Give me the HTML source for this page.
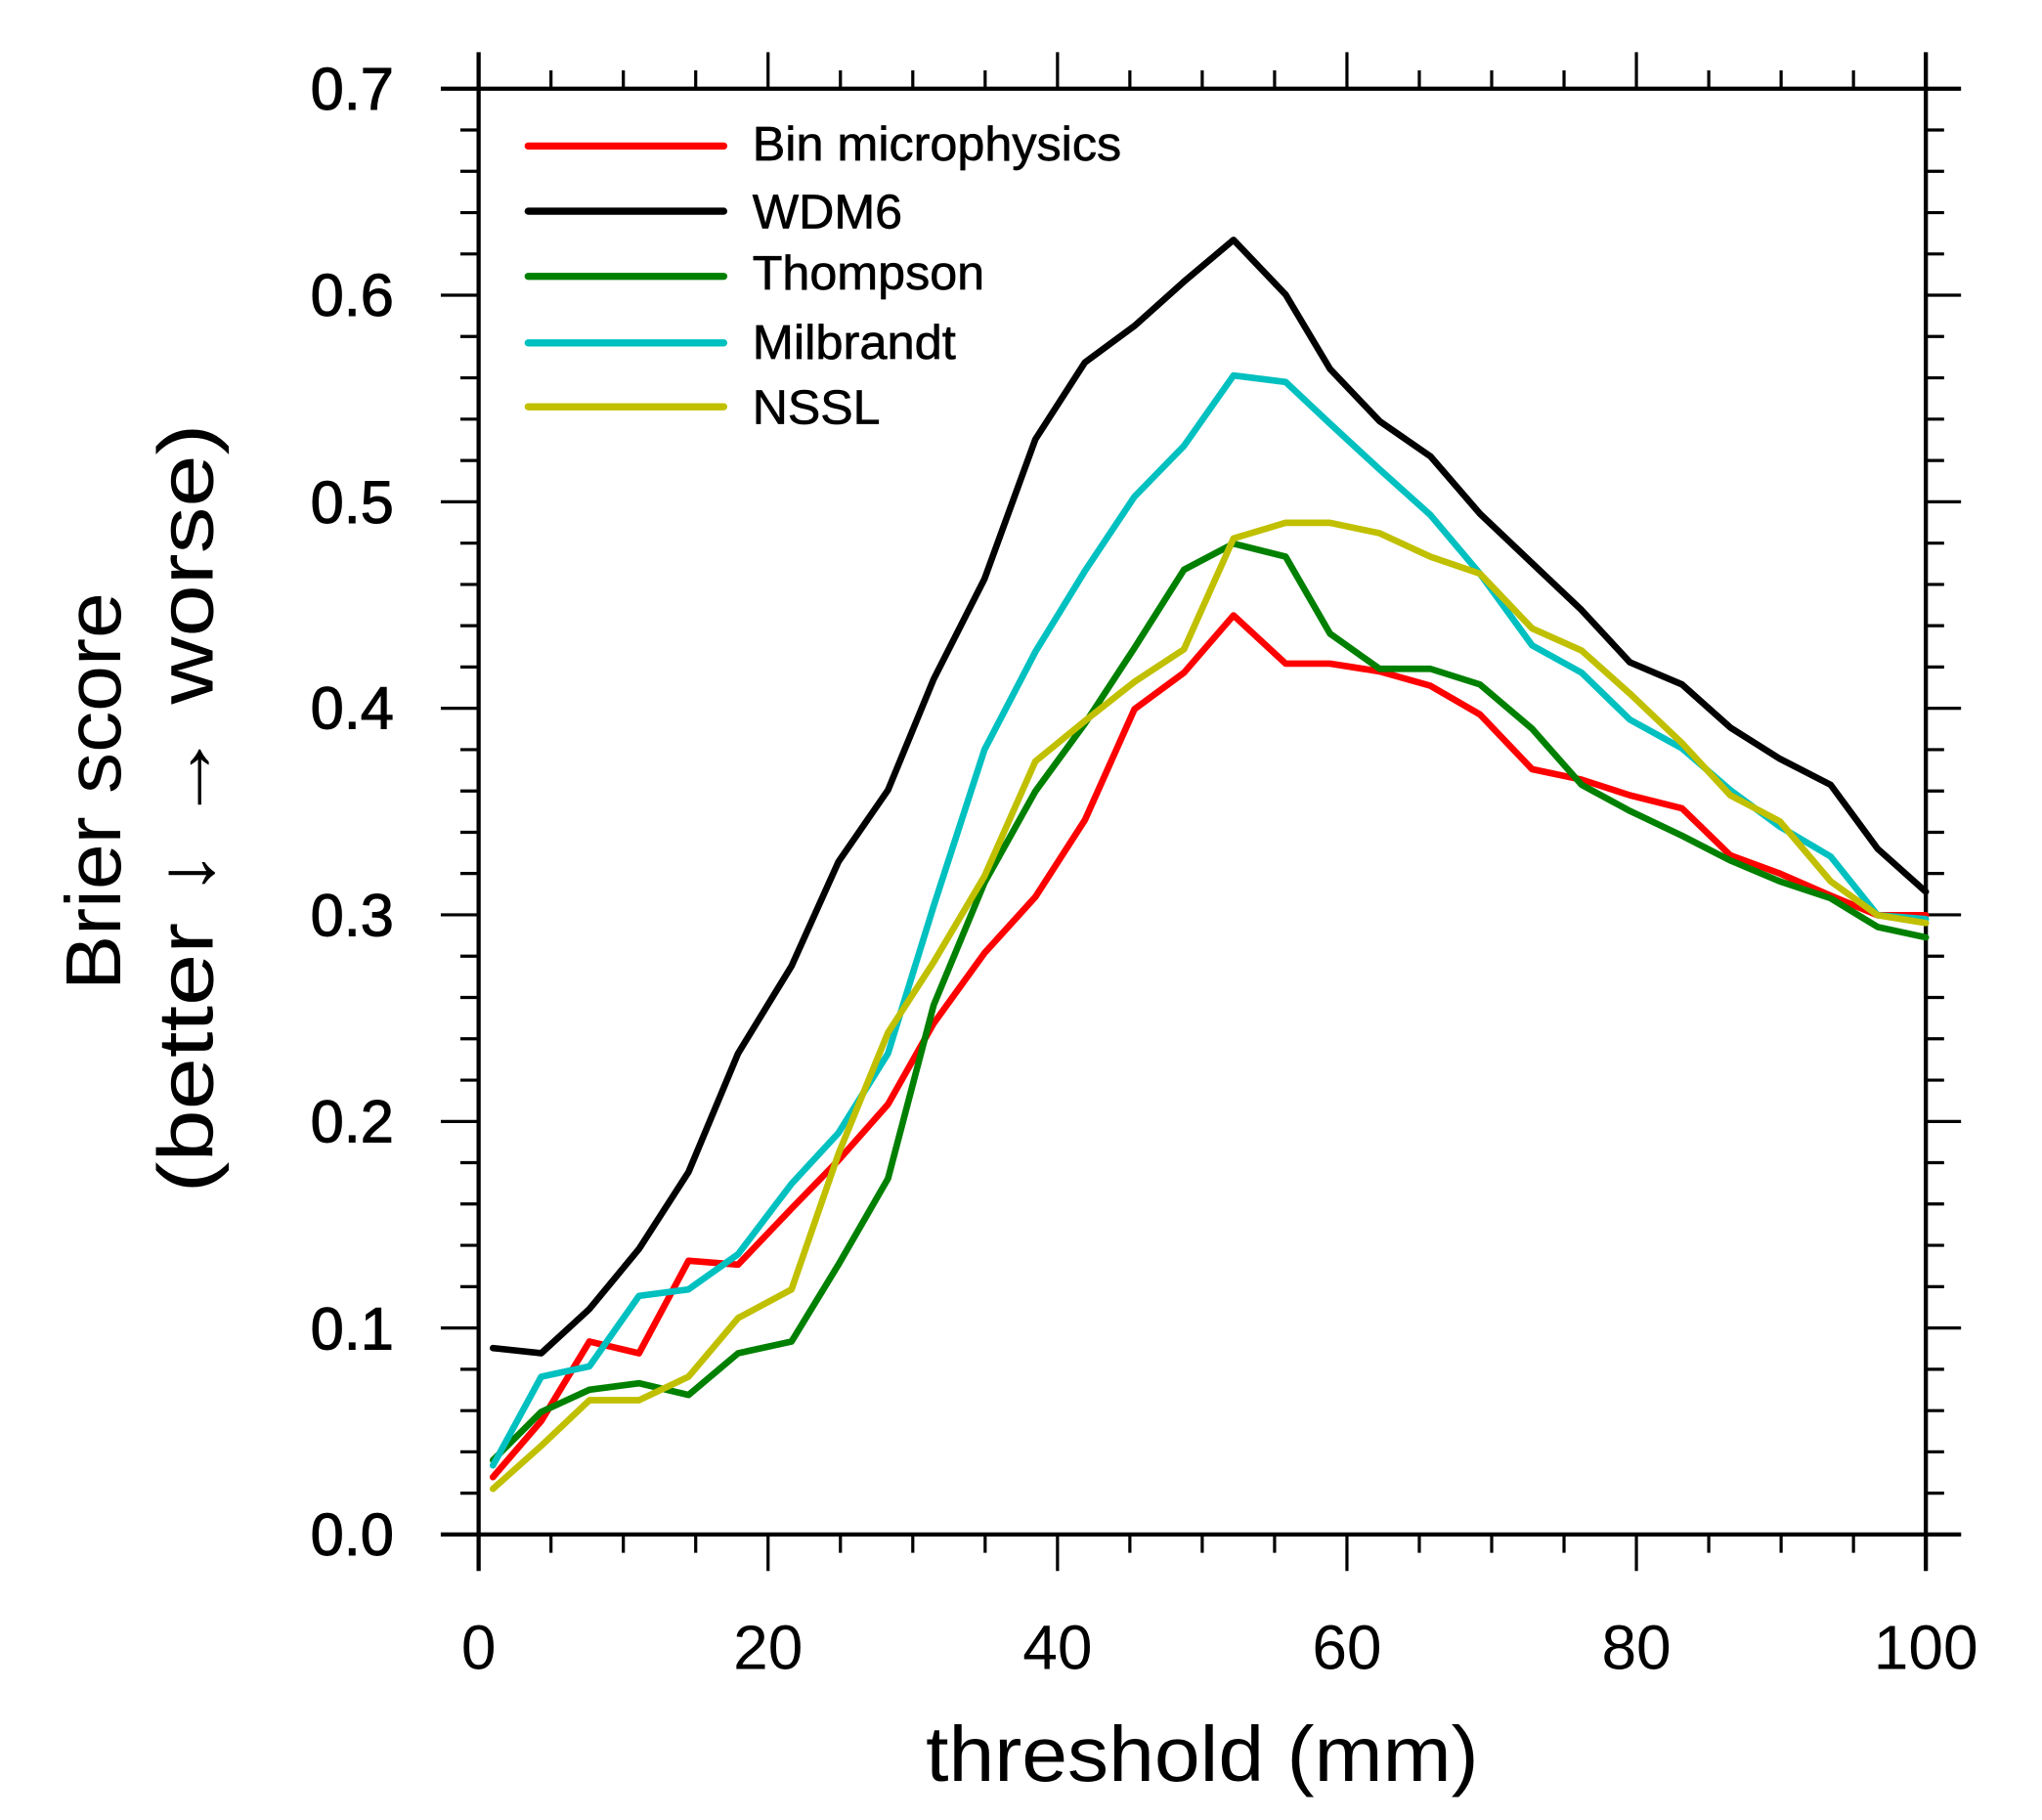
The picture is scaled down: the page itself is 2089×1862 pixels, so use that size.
<!DOCTYPE html>
<html><head><meta charset="utf-8"><style>html,body{margin:0;padding:0;background:#fff}svg{display:block}</style></head>
<body>
<svg xmlns="http://www.w3.org/2000/svg" width="2089" height="1862" viewBox="0 0 1566 1396" font-family="'Liberation Sans', Arial, sans-serif">
<rect width="1566" height="1396" fill="#fff"/>
<g stroke="#000" stroke-width="2.4" fill="none">
<path d="M338 68H1504M338 1177H1504M367 40V1205M1477 40V1205" stroke-width="3.2"/>
<path d="
M338 1177H367M338 1018.6H367M338 860.2H367M338 701.7H367M338 543.3H367M338 384.9H367M338 226.4H367
M1477 1177H1504M1477 1018.6H1504M1477 860.2H1504M1477 701.7H1504M1477 543.3H1504M1477 384.9H1504M1477 226.4H1504
M353 1145.3H367M353 1113.6H367M353 1082H367M353 1050.3H367M353 986.9H367M353 955.2H367M353 923.5H367M353 891.8H367M353 828.5H367M353 796.8H367M353 765.1H367M353 733.4H367M353 670H367M353 638.4H367M353 606.7H367M353 575H367M353 511.6H367M353 479.9H367M353 448.3H367M353 416.6H367M353 353.2H367M353 321.5H367M353 289.8H367M353 258.1H367M353 194.8H367M353 163.1H367M353 131.4H367M353 99.7H367
M1477 1145.3H1491M1477 1113.6H1491M1477 1082H1491M1477 1050.3H1491M1477 986.9H1491M1477 955.2H1491M1477 923.5H1491M1477 891.8H1491M1477 828.5H1491M1477 796.8H1491M1477 765.1H1491M1477 733.4H1491M1477 670H1491M1477 638.4H1491M1477 606.7H1491M1477 575H1491M1477 511.6H1491M1477 479.9H1491M1477 448.3H1491M1477 416.6H1491M1477 353.2H1491M1477 321.5H1491M1477 289.8H1491M1477 258.1H1491M1477 194.8H1491M1477 163.1H1491M1477 131.4H1491M1477 99.7H1491
M589 40V68M811 40V68M1033 40V68M1255 40V68
M589 1177V1205M811 1177V1205M1033 1177V1205M1255 1177V1205
M422.5 54V68M478 54V68M533.5 54V68M644.5 54V68M700 54V68M755.5 54V68M866.5 54V68M922 54V68M977.5 54V68M1088.5 54V68M1144 54V68M1199.5 54V68M1310.5 54V68M1366 54V68M1421.5 54V68
M422.5 1177V1191M478 1177V1191M533.5 1177V1191M644.5 1177V1191M700 1177V1191M755.5 1177V1191M866.5 1177V1191M922 1177V1191M977.5 1177V1191M1088.5 1177V1191M1144 1177V1191M1199.5 1177V1191M1310.5 1177V1191M1366 1177V1191M1421.5 1177V1191"/>
</g>
<g font-size="46" text-anchor="end" fill="#000" stroke="#000" stroke-width="0.8">
<text x="302" y="1193">0.0</text><text x="302" y="1035">0.1</text><text x="302" y="876">0.2</text><text x="302" y="718">0.3</text><text x="302" y="559">0.4</text><text x="302" y="401">0.5</text><text x="302" y="242">0.6</text><text x="302" y="84">0.7</text>
</g>
<g font-size="48" text-anchor="middle" fill="#000">
<text x="367" y="1280">0</text><text x="589" y="1280">20</text><text x="811" y="1280">40</text><text x="1033" y="1280">60</text><text x="1255" y="1280">80</text><text x="1477" y="1280">100</text>
</g>
<text x="922" y="1366" font-size="60" text-anchor="middle" textLength="424" lengthAdjust="spacingAndGlyphs">threshold (mm)</text>
<text transform="translate(92,607) rotate(-90)" font-size="60" text-anchor="middle" textLength="305" lengthAdjust="spacingAndGlyphs">Brier score</text>
<text transform="translate(163,620) rotate(-90)" font-size="60" text-anchor="middle" textLength="590" lengthAdjust="spacingAndGlyphs">(better ↓    → worse)</text>
<g fill="none" stroke-width="5" stroke-linejoin="round" stroke-linecap="round">
<polyline stroke="#ff0000" points="378,1133 415,1090 452,1029 490,1038 528,967 566,970 607,927 643,890 681,847 716,785 755,731 794,688 832,629 870,544 908,516 946,472 986,509 1020,509 1058,515 1097,526 1135,548 1175,590 1213,598 1250,610 1290,620 1327,656 1365,670 1404,687 1440,702 1477,702"/>
<polyline stroke="#000000" points="378,1034 415,1038 452,1004 490,958 528,899 566,808 607,741 643,661 681,606 716,521 755,444 794,337 832,278 870,250 908,216 946,184 986,226 1020,283 1058,323 1097,350 1135,394 1175,432 1213,468 1250,508 1290,525 1327,558 1365,582 1404,602 1440,651 1477,684"/>
<polyline stroke="#008000" points="378,1120 415,1083 452,1066 490,1061 528,1070 566,1038 607,1029 643,970 681,904 716,771 755,677 794,607 832,555 870,497 908,437 946,417 986,427 1020,486 1058,513 1097,513 1135,525 1175,559 1213,602 1250,622 1290,641 1327,660 1365,676 1404,689 1440,711 1477,719"/>
<polyline stroke="#00c0c0" points="378,1124 415,1056 452,1048 490,994 528,989 566,962 607,908 643,869 681,808 716,695 755,575 794,500 832,438 870,381 908,342 946,288 986,293 1020,325 1058,360 1097,395 1135,440 1175,495 1213,516 1250,552 1290,574 1327,606 1365,634 1404,657 1440,702 1477,705"/>
<polyline stroke="#c0c000" points="378,1142 415,1109 452,1074 490,1074 528,1056 566,1011 607,989 643,885 681,792 716,738 755,672 794,584 832,553 870,523 908,498 946,413 986,401 1020,401 1058,409 1097,427 1135,440 1175,482 1213,499 1250,532 1290,570 1327,610 1365,630 1404,676 1440,702 1477,708"/>
</g>
<g stroke-width="5.5" stroke-linecap="round">
<line x1="405" y1="112" x2="555" y2="112" stroke="#ff0000"/>
<line x1="405" y1="162" x2="555" y2="162" stroke="#000"/>
<line x1="405" y1="212" x2="555" y2="212" stroke="#008000"/>
<line x1="405" y1="263" x2="555" y2="263" stroke="#00c0c0"/>
<line x1="405" y1="312" x2="555" y2="312" stroke="#c0c000"/>
</g>
<g font-size="37" fill="#000" stroke="#000" stroke-width="0.5">
<text x="577" y="123" textLength="283" lengthAdjust="spacingAndGlyphs">Bin microphysics</text>
<text x="577" y="175" textLength="115" lengthAdjust="spacingAndGlyphs">WDM6</text>
<text x="577" y="222" textLength="178" lengthAdjust="spacingAndGlyphs">Thompson</text>
<text x="577" y="275" textLength="156" lengthAdjust="spacingAndGlyphs">Milbrandt</text>
<text x="577" y="325" textLength="98" lengthAdjust="spacingAndGlyphs">NSSL</text>
</g>
</svg>
</body></html>
